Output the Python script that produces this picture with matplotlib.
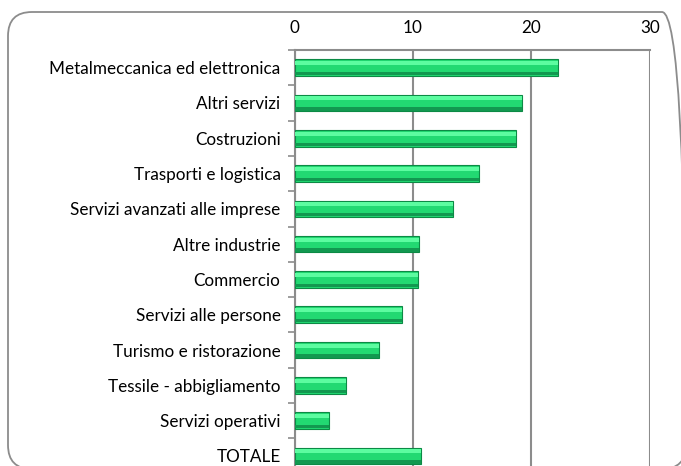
import matplotlib
matplotlib.use("Agg")
import matplotlib.pyplot as plt
from matplotlib.patches import FancyBboxPatch
import numpy as np

categories = ["Metalmeccanica ed elettronica", "Altri servizi", "Costruzioni",
              "Trasporti e logistica", "Servizi avanzati alle imprese",
              "Altre industrie", "Commercio", "Servizi alle persone",
              "Turismo e ristorazione", "Tessile - abbigliamento",
              "Servizi operativi", "TOTALE"]
values = [22.2, 19.2, 18.7, 15.6, 13.4, 10.5, 10.4, 9.1, 7.1, 4.35, 2.9, 10.7]
xticks = [0, 10, 20, 30]

plt.rcParams['font.family'] = ['Lato', 'DejaVu Sans']

W, H = 681, 466
fig = plt.figure(figsize=(W / 100, H / 100), dpi=100)

# rounded frame (display pixel coordinates, origin bottom-left)
frame = FancyBboxPatch((8, H - 469), 686 - 8, 469 - 12,
                       boxstyle="round,pad=0,rounding_size=24",
                       transform=None, fill=False,
                       edgecolor="#8c8c8c", linewidth=1.3, clip_on=False)
fig.patches.append(frame)

n = len(categories)
band = 35.3
top_px = 50
bottom_px = top_px + n * band
left_px, right_px = 294.5, 650
ax = fig.add_axes([left_px / W, 1 - bottom_px / H, (right_px - left_px) / W,
                   (bottom_px - top_px) / H])

y = np.arange(n)
h = 0.47
ax.barh(y, values, height=h, color="#22d972", edgecolor="#0c8a45",
        linewidth=0.8, zorder=3)
# bevel highlight (top) and shadow (bottom)
ax.barh(y - h * 0.27, values, height=h * 0.24, color="#5cfca0",
        linewidth=0, zorder=4)
ax.barh(y + h * 0.36, values, height=h * 0.2, color="#129850",
        linewidth=0, zorder=4)

ax.set_xlim(0, 30)
ax.set_ylim(n - 0.5, -0.5)
ax.set_xticks(xticks)
ax.set_xticklabels([str(t) for t in xticks])
ax.xaxis.tick_top()
ax.tick_params(axis="x", length=0, pad=10, labelsize=12.3, colors="black")
ax.set_yticks(y)
ax.set_yticklabels(categories)
ax.set_yticks(np.arange(n + 1) - 0.5, minor=True)
ax.tick_params(axis="y", which="major", length=0, pad=10, labelsize=12.3)
ax.tick_params(axis="y", which="minor", length=5, width=1.2, color="#8c8c8c")
ax.grid(axis="x", color="#8c8c8c", linewidth=1.5, zorder=0)
for s in ["right", "bottom"]:
    ax.spines[s].set_visible(False)
for s in ["top", "left"]:
    ax.spines[s].set_color("#8c8c8c")
    ax.spines[s].set_linewidth(1.5)

fig.savefig("out.png", dpi=100)
